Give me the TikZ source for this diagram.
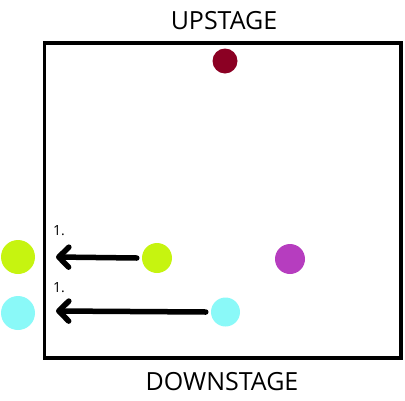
\documentclass[tikz,border=0pt]{standalone}
\usepackage{fontspec}
\setmainfont{Open Sans}
\usetikzlibrary{arrows.meta}
\definecolor{wine}{RGB}{139,0,35}
\definecolor{lime}{RGB}{198,244,16}
\definecolor{aqua}{RGB}{138,249,248}
\definecolor{orchid}{RGB}{182,61,191}
\tikzset{
  dancer/.style={circle, fill=#1, draw=none, inner sep=0pt, minimum size=30pt},
  bigdancer/.style={circle, fill=#1, draw=none, inner sep=0pt, minimum size=34pt},
  move/.style={line width=5.5pt, line cap=round, -{Straight Barb[length=10pt,width=20pt,line cap=round,line join=round]}},
  stagelabel/.style={font=\fontsize{25}{28}\selectfont, text=black},
  steplabel/.style={font=\fontsize{14}{16}\selectfont, text=black}
}
\begin{document}
\begin{tikzpicture}[x=1pt,y=-1pt]
\useasboundingbox (0,0) rectangle (405,400);
% stage outline
\draw[line width=3.5pt] (44.5,43) rectangle (401,358);
\node[stagelabel] (up) at (224,21) {UPSTAGE};
\node[stagelabel] (down) at (222,382) {DOWNSTAGE};
% dancers
\node[dancer=wine, minimum size=25pt] (red) at (225,61) {};
\node[dancer=lime] (limeA) at (157,258) {};
\node[dancer=orchid] (purple) at (290,259) {};
\node[dancer=aqua, minimum size=29pt] (aquaA) at (225.5,312) {};
\node[bigdancer=lime] (limeB) at (18,257) {};
\node[bigdancer=aqua] (aquaB) at (18,313) {};
% moves
\coordinate (limeEnd) at (56,257);
\coordinate (aquaEnd) at (56,311);
\draw[move] ([xshift=-5pt]limeA.west) -- (limeEnd);
\draw[move] ([xshift=-5pt]aquaA.west) -- (aquaEnd);
\node[steplabel] (n1) at (59,231) {1.};
\node[steplabel] (n2) at (59,288) {1.};
\end{tikzpicture}
\end{document}
